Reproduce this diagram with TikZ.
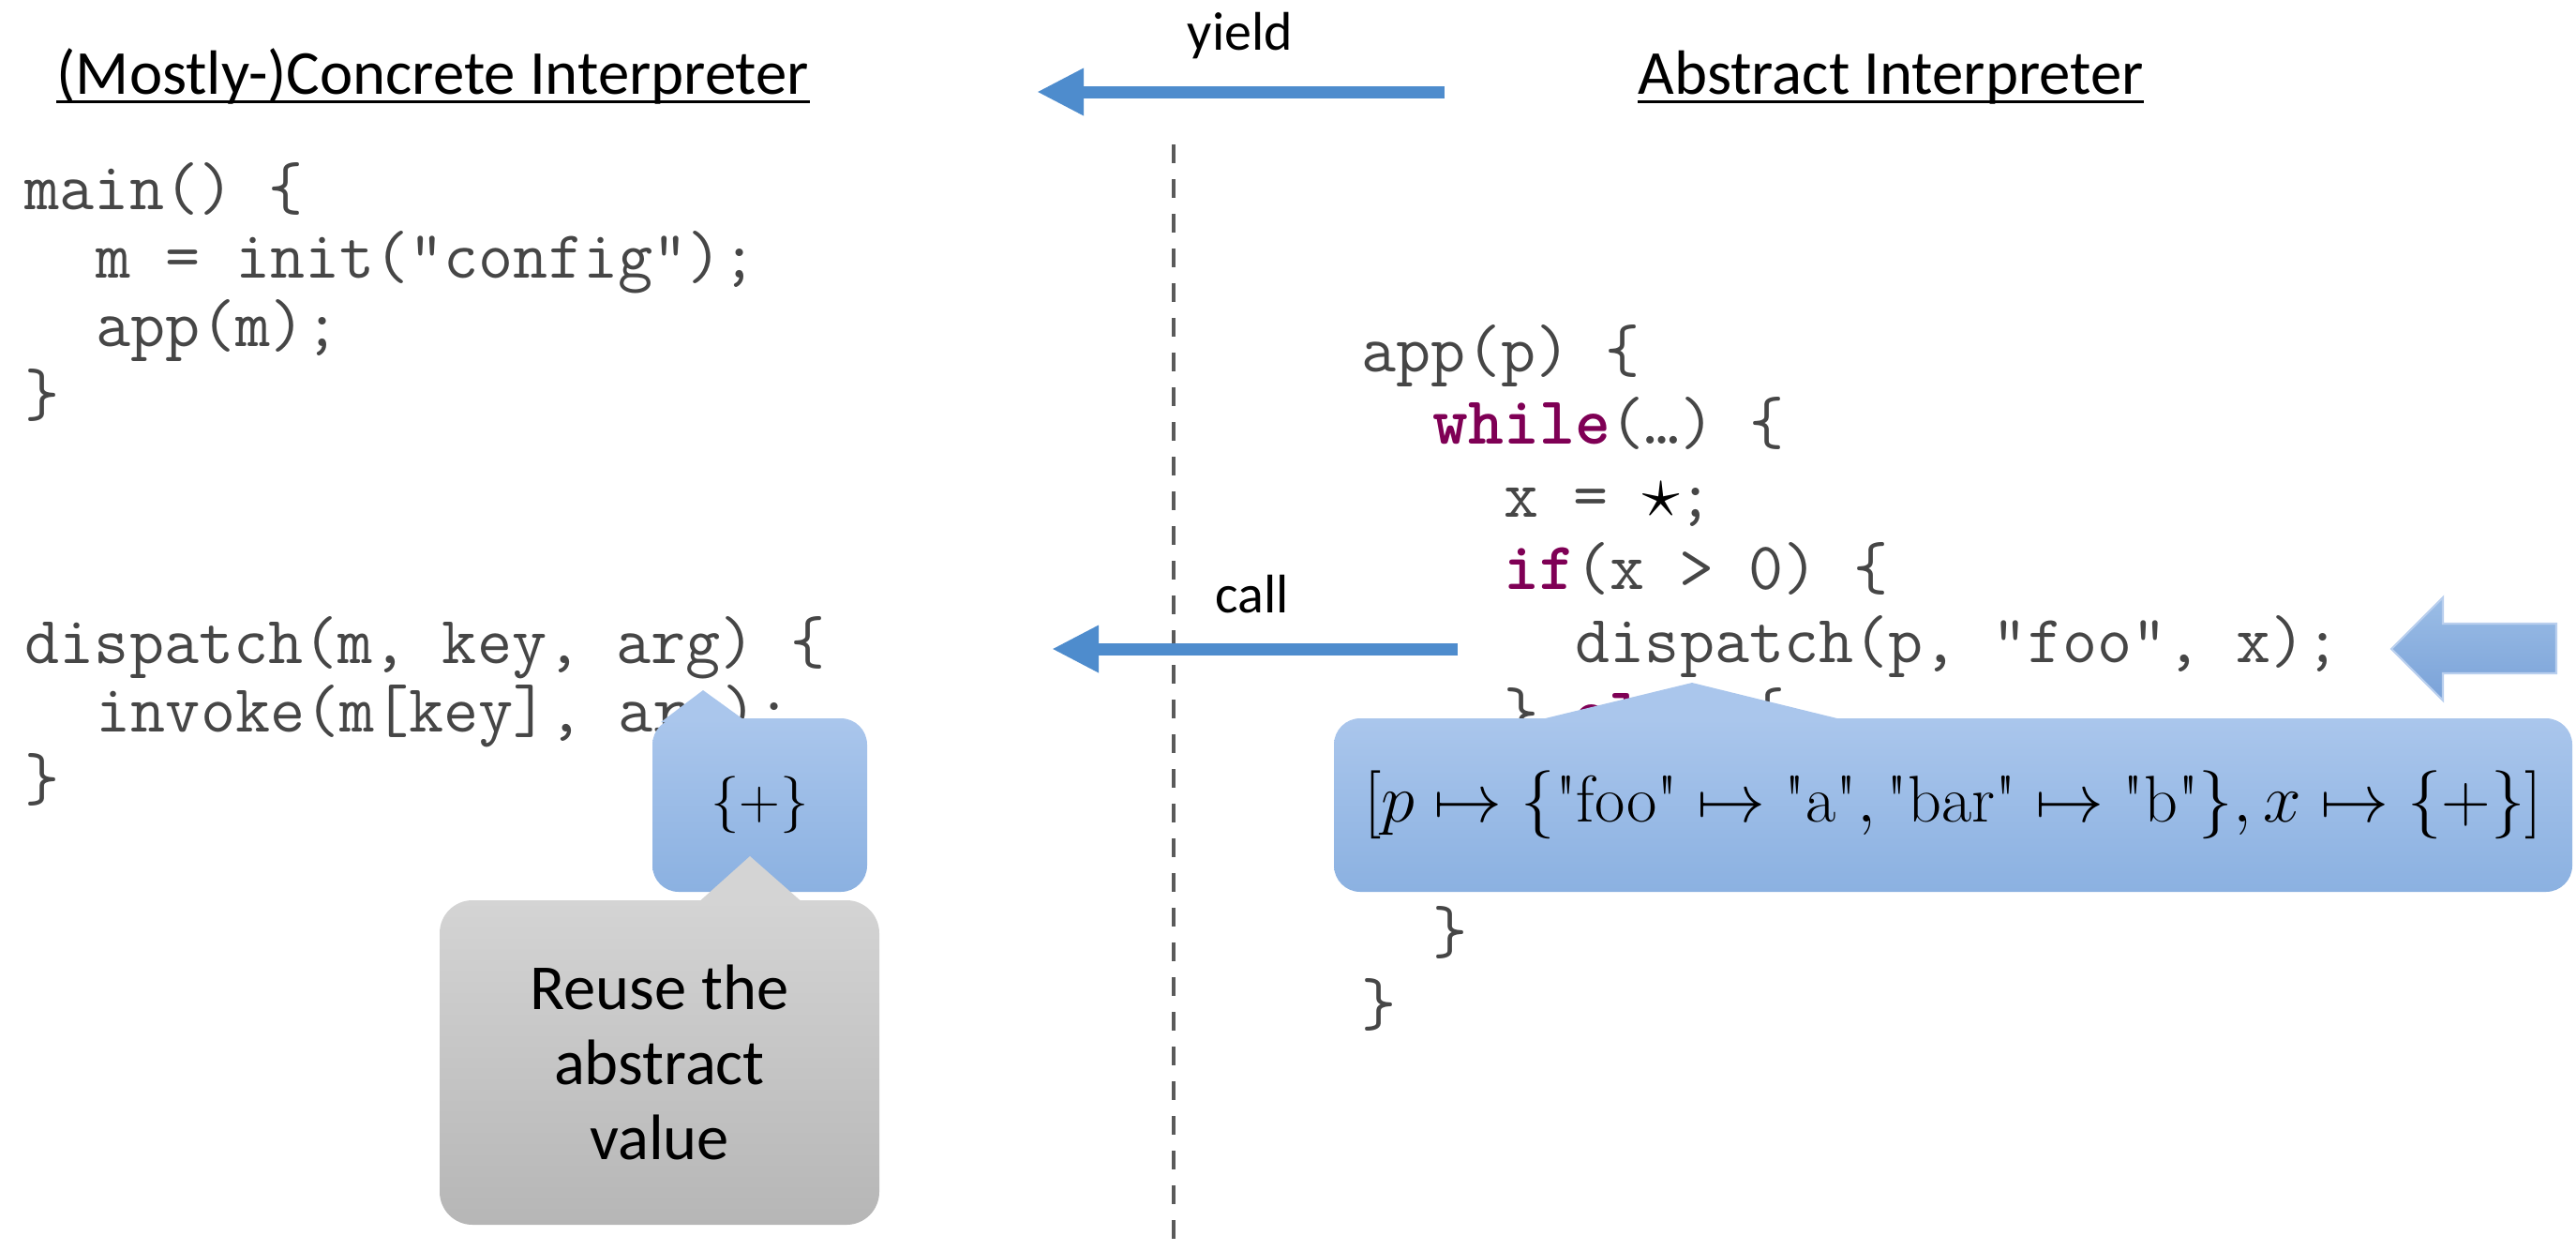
\documentclass[tikz,border=0pt]{standalone}
\usepackage{fontspec}
\usepackage{amsmath}
\usepackage{graphicx}
\newfontfamily\uifont{Carlito}
\usetikzlibrary{arrows.meta,positioning}

\definecolor{arrowblue}{RGB}{78,140,205}
\definecolor{codegray}{RGB}{70,70,70}
\definecolor{kwpurple}{RGB}{127,0,85}
\definecolor{calloutTop}{RGB}{170,198,236}
\definecolor{calloutBot}{RGB}{139,177,225}
\definecolor{grayTop}{RGB}{212,212,212}
\definecolor{grayBot}{RGB}{182,182,182}
\definecolor{divgray}{RGB}{90,90,90}
\definecolor{fatTop}{RGB}{155,189,230}
\definecolor{fatBot}{RGB}{122,162,216}
\definecolor{fatEdge}{RGB}{185,207,238}

\newcommand{\kw}[1]{{\color{kwpurple}\bfseries #1}}
\newcommand{\qq}[1]{\text{\textquotedbl#1\textquotedbl}}

\tikzset{
    codeline/.style={font=\ttfamily\fontsize{20.5}{20.5}\selectfont, text=codegray, anchor=base west, inner sep=0pt},
    heading/.style={font=\uifont\fontsize{19}{22}\selectfont, anchor=base west, inner sep=0pt},
    flowlbl/.style={font=\uifont\fontsize{16.5}{20}\selectfont, anchor=base, inner sep=0pt},
    flow/.style={arrowblue, line width=0.13cm, -{Triangle[width=0.47cm,length=0.5cm]}},
    bluebox/.style={rounded corners=0.28cm, top color=calloutTop, bottom color=calloutBot, inner sep=0pt},
    graybox/.style={rounded corners=0.35cm, top color=grayTop, bottom color=grayBot, inner sep=0pt}
}

\begin{document}
\begin{tikzpicture}[x=1cm, y=1cm]

\useasboundingbox (0,0) rectangle (27.48,-13.33);

% Headings
\node[heading] (concT) at (0.60,-1.00) {(Mostly-)Concrete Interpreter};
\node[heading] (absT) at (17.47,-1.00) {Abstract Interpreter};
\foreach \t in {concT,absT} {
    \draw[line width=0.03cm] ([yshift=-0.08cm]\t.base west) -- ([yshift=-0.08cm]\t.base east);
}

% Divider
\coordinate (divtop) at (12.52,-1.54);
\coordinate (divbot) at (12.52,-13.33);
\draw[divgray, line width=0.04cm, dash pattern=on 0.2cm off 0.17cm] (divtop) -- (divbot);

% Concrete side
\node[codeline] (cmain) at (0.26,-2.23) {main() \{};
\node[codeline] (cinit) at (1.02,-2.963) {m = init("config");};
\node[codeline] (capp) at (1.02,-3.697) {app(m);};
\node[codeline] (cmainE) at (0.26,-4.43) {\}};

\node[codeline] (cdisp) at (0.26,-7.07) {dispatch(m, key, arg) \{};
\node[codeline] (cinv) at (1.02,-7.80) {invoke(m[key], arg);};
\node[codeline] (cdispE) at (0.26,-8.53) {\}};

% Abstract side
\node[codeline] (aapp) at (14.52,-3.96) {app(p) \{};
\node[codeline] (awhile) at (15.28,-4.735) {\kw{while}(…) \{};
\node[codeline] (ax) at (16.04,-5.51) {x = \makebox[0.525em]{\color{black}\scalebox{1.1}{$\star$}};};
\node[codeline] (aif) at (16.04,-6.285) {\kw{if}(x > 0) \{};
\node[codeline] (adisp) at (16.80,-7.06) {dispatch(p, “foo”, x);};
\node[codeline] (aelse) at (16.04,-7.835) {\} \kw{else} \{};
\node[codeline] (awhileE) at (15.28,-10.16) {\}};
\node[codeline] (aappE) at (14.52,-10.935) {\}};

% yield / call
\coordinate (yieldS) at (15.41,-0.98);
\coordinate (yieldE) at (11.06,-0.98);
\draw[flow] (yieldS) -- (yieldE);
\node[flowlbl] (yieldL) at (13.23,-0.53) {yield};

\coordinate (callS) at (15.55,-6.92);
\coordinate (callE) at (11.22,-6.92);
\draw[flow] (callS) -- (callE);
\node[flowlbl] (callL) at (13.36,-6.53) {call};

% Current statement marker
\shade[top color=fatTop, bottom color=fatBot, draw=fatEdge, line width=0.6pt]
    (27.27,-6.65) -- (26.06,-6.65) -- (26.06,-6.37) -- (25.51,-6.92)
    -- (26.06,-7.47) -- (26.06,-7.18) -- (27.27,-7.18) -- cycle;

% Abstract state
\node[bluebox, minimum width=13.21cm, minimum height=1.85cm, font=\fontsize{20}{20}\selectfont] (envbox) at (20.835,-8.585)
    {$[p \mapsto \{\qq{foo} \mapsto \qq{a}, \qq{bar} \mapsto \qq{b}\}, x \mapsto \{+\}]$};
\fill[calloutTop] (16.32,-7.70) -- (18.05,-7.28) -- (19.76,-7.70) -- cycle;

% Reused value
\node[bluebox, minimum width=2.29cm, minimum height=1.85cm, font=\fontsize{17}{17}\selectfont] (plusbox) at (8.105,-8.585) {$\{+\}$};
\fill[calloutTop] (7.05,-7.70) -- (7.50,-7.36) -- (7.97,-7.70) -- cycle;

\node[graybox, minimum width=4.69cm, minimum height=3.46cm, align=center, font=\uifont\fontsize{19.5}{22.8}\selectfont] (reusebox) at (7.035,-11.33)
    {Reuse the\\abstract\\value};
\fill[grayTop] (7.43,-9.64) -- (8.00,-9.13) -- (8.58,-9.64) -- cycle;

\end{tikzpicture}
\end{document}
